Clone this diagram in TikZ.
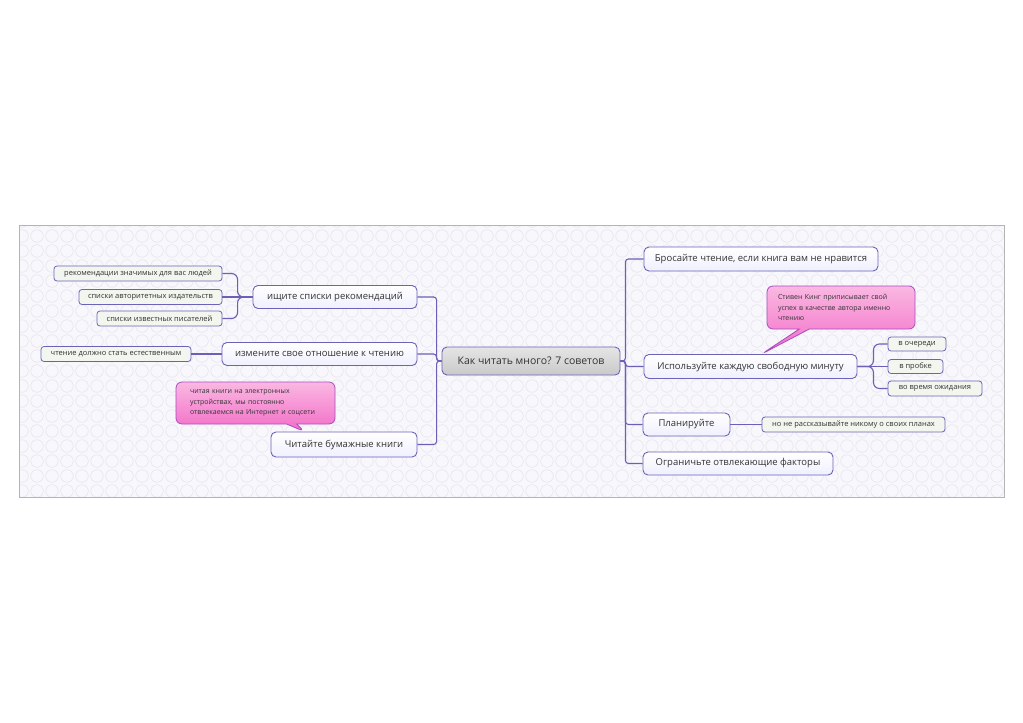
\documentclass[tikz,border=0pt]{standalone}
\usepackage{fontspec}
\setmainfont{Open Sans}
\usetikzlibrary{shapes.callouts}
\definecolor{framegray}{HTML}{B4B4B4}
\definecolor{paper}{HTML}{F8F7FB}
\definecolor{ring}{HTML}{E8E5EF}
\definecolor{edgeblue}{HTML}{6A64B8}
\definecolor{linkblue}{HTML}{6B5FB8}
\definecolor{leafgreen}{HTML}{F2F6EE}
\definecolor{pinktop}{HTML}{FAB8E2}
\definecolor{pinkbot}{HTML}{F36CC7}
\definecolor{pinkedge}{HTML}{A84CC4}
\definecolor{inkgray}{HTML}{333333}

\begin{document}
\begin{tikzpicture}[x=1pt, y=-1pt,
  every node/.style={text=inkgray, inner sep=0pt},
  root/.style={draw=edgeblue, line width=0.9pt, rounded corners=5pt, top color=gray!20, bottom color=gray!42, minimum height=28pt, font=\fontsize{10.5}{12}\selectfont},
  topic/.style={draw=edgeblue, line width=0.9pt, rounded corners=5pt, top color=white, bottom color=blue!6, minimum height=23pt, font=\fontsize{9.5}{11}\selectfont},
  leaf/.style={draw=edgeblue, line width=0.8pt, rounded corners=3pt, fill=leafgreen, minimum height=15pt, font=\fontsize{7.5}{9}\selectfont},
  callbox/.style={rectangle callout, draw=pinkedge, line width=0.8pt, rounded corners=6pt, top color=pinktop, bottom color=pinkbot, callout pointer width=10pt, align=left, font=\fontsize{7}{10.5}\selectfont},
  link/.style={draw=linkblue, line width=1.1pt, rounded corners=6pt}]

  % Fond
  \useasboundingbox (0,0) rectangle (1023,723);
  \fill[white] (0,0) rectangle (1023,723);
  \begin{scope}
    \clip (19,225) rectangle (1004,497);
    \fill[paper] (19,225) rectangle (1004,497);
    \foreach \cx in {22,37,...,1012}
      \foreach \cy in {221,236,...,506}
        \draw[ring, line width=0.6pt] (\cx,\cy) circle (6.3);
  \end{scope}
  \draw[framegray, line width=0.8pt] (19,225) rectangle (1004,497);

  % Centre
  \node[root, minimum width=178pt] (root) at (531,361) {Как читать много? 7 советов};

  % Gauche
  \node[topic, minimum width=164pt] (lists) at (335,297) {ищите списки рекомендаций};
  \node[topic, minimum width=195pt] (attitude) at (319.5,354) {измените свое отношение к чтению};
  \node[topic, minimum width=146pt, minimum height=25pt] (paper) at (344,444.5) {Читайте бумажные книги};

  \node[leaf, minimum width=168pt] (people) at (138,273.5) {рекомендации значимых для вас людей};
  \node[leaf, minimum width=143pt] (publishers) at (150.5,297) {списки авторитетных издательств};
  \node[leaf, minimum width=125pt] (writers) at (159.5,318.5) {списки известных писателей};
  \node[leaf, minimum width=150pt] (natural) at (116,354) {чтение должно стать естественным};

  % Droite
  \node[topic, minimum width=234pt, minimum height=24pt] (drop) at (761,259) {Бросайте чтение, если книга вам не нравится};
  \node[topic, minimum width=213pt, minimum height=24pt] (minute) at (750.5,366.5) {Используйте каждую свободную минуту};
  \node[topic, minimum width=87pt] (plan) at (686.5,424.5) {Планируйте};
  \node[topic, minimum width=190pt] (limit) at (738,463.5) {Ограничьте отвлекающие факторы};

  \node[leaf, minimum width=183pt] (secret) at (853.5,424.5) {но не рассказывайте никому о своих планах};
  \node[leaf, minimum width=58pt, minimum height=14pt] (queue) at (917,344) {в очереди};
  \node[leaf, minimum width=55pt, minimum height=14pt] (jam) at (915.5,366.5) {в пробке};
  \node[leaf, minimum width=94pt] (waiting) at (935,388.5) {во время ожидания};

  % Bulles
  \node[callbox, text width=126pt, inner xsep=11pt, minimum height=43pt,
        callout absolute pointer={([xshift=118pt]minute.north west)}] (king) at (841,307.5)
        {Стивен Кинг приписывает свой\\ успех в качестве автора именно\\ чтению};
  \node[callbox, text width=131pt, inner xsep=14pt, minimum height=42pt,
        callout absolute pointer={([xshift=34pt]paper.north west)}] (screens) at (255.5,403)
        {читая книги на электронных\\ устройствах, мы постоянно\\ отвлекаемся на Интернет и соцсети};

  % Liens
  \draw[link, rounded corners=3pt] (root.west) -- ++(-5,0) |- (lists.east);
  \draw[link, rounded corners=3pt] (root.west) -- ++(-5,0) |- (attitude.east);
  \draw[link, rounded corners=3pt] (root.west) -- ++(-5,0) |- (paper.east);
  \draw[link, rounded corners=3pt] (root.east) -- ++(5,0) |- (drop.west);
  \draw[link, rounded corners=3pt] (root.east) -- ++(5,0) |- (minute.west);
  \draw[link, rounded corners=3pt] (root.east) -- ++(5,0) |- (plan.west);
  \draw[link, rounded corners=3pt] (root.east) -- ++(5,0) |- (limit.west);

  \draw[link] (lists.west) -- ++(-15,0) |- (people.east);
  \draw[link] (lists.west) -- (publishers.east);
  \draw[link] (lists.west) -- ++(-15,0) |- (writers.east);
  \draw[link] (attitude.west) -- (natural.east);

  \draw[link] (minute.east) -- ++(16,0) |- (queue.west);
  \draw[link] (minute.east) -- (jam.west);
  \draw[link] (minute.east) -- ++(16,0) |- (waiting.west);
  \draw[link] (plan.east) -- (secret.west);
\end{tikzpicture}
\end{document}
